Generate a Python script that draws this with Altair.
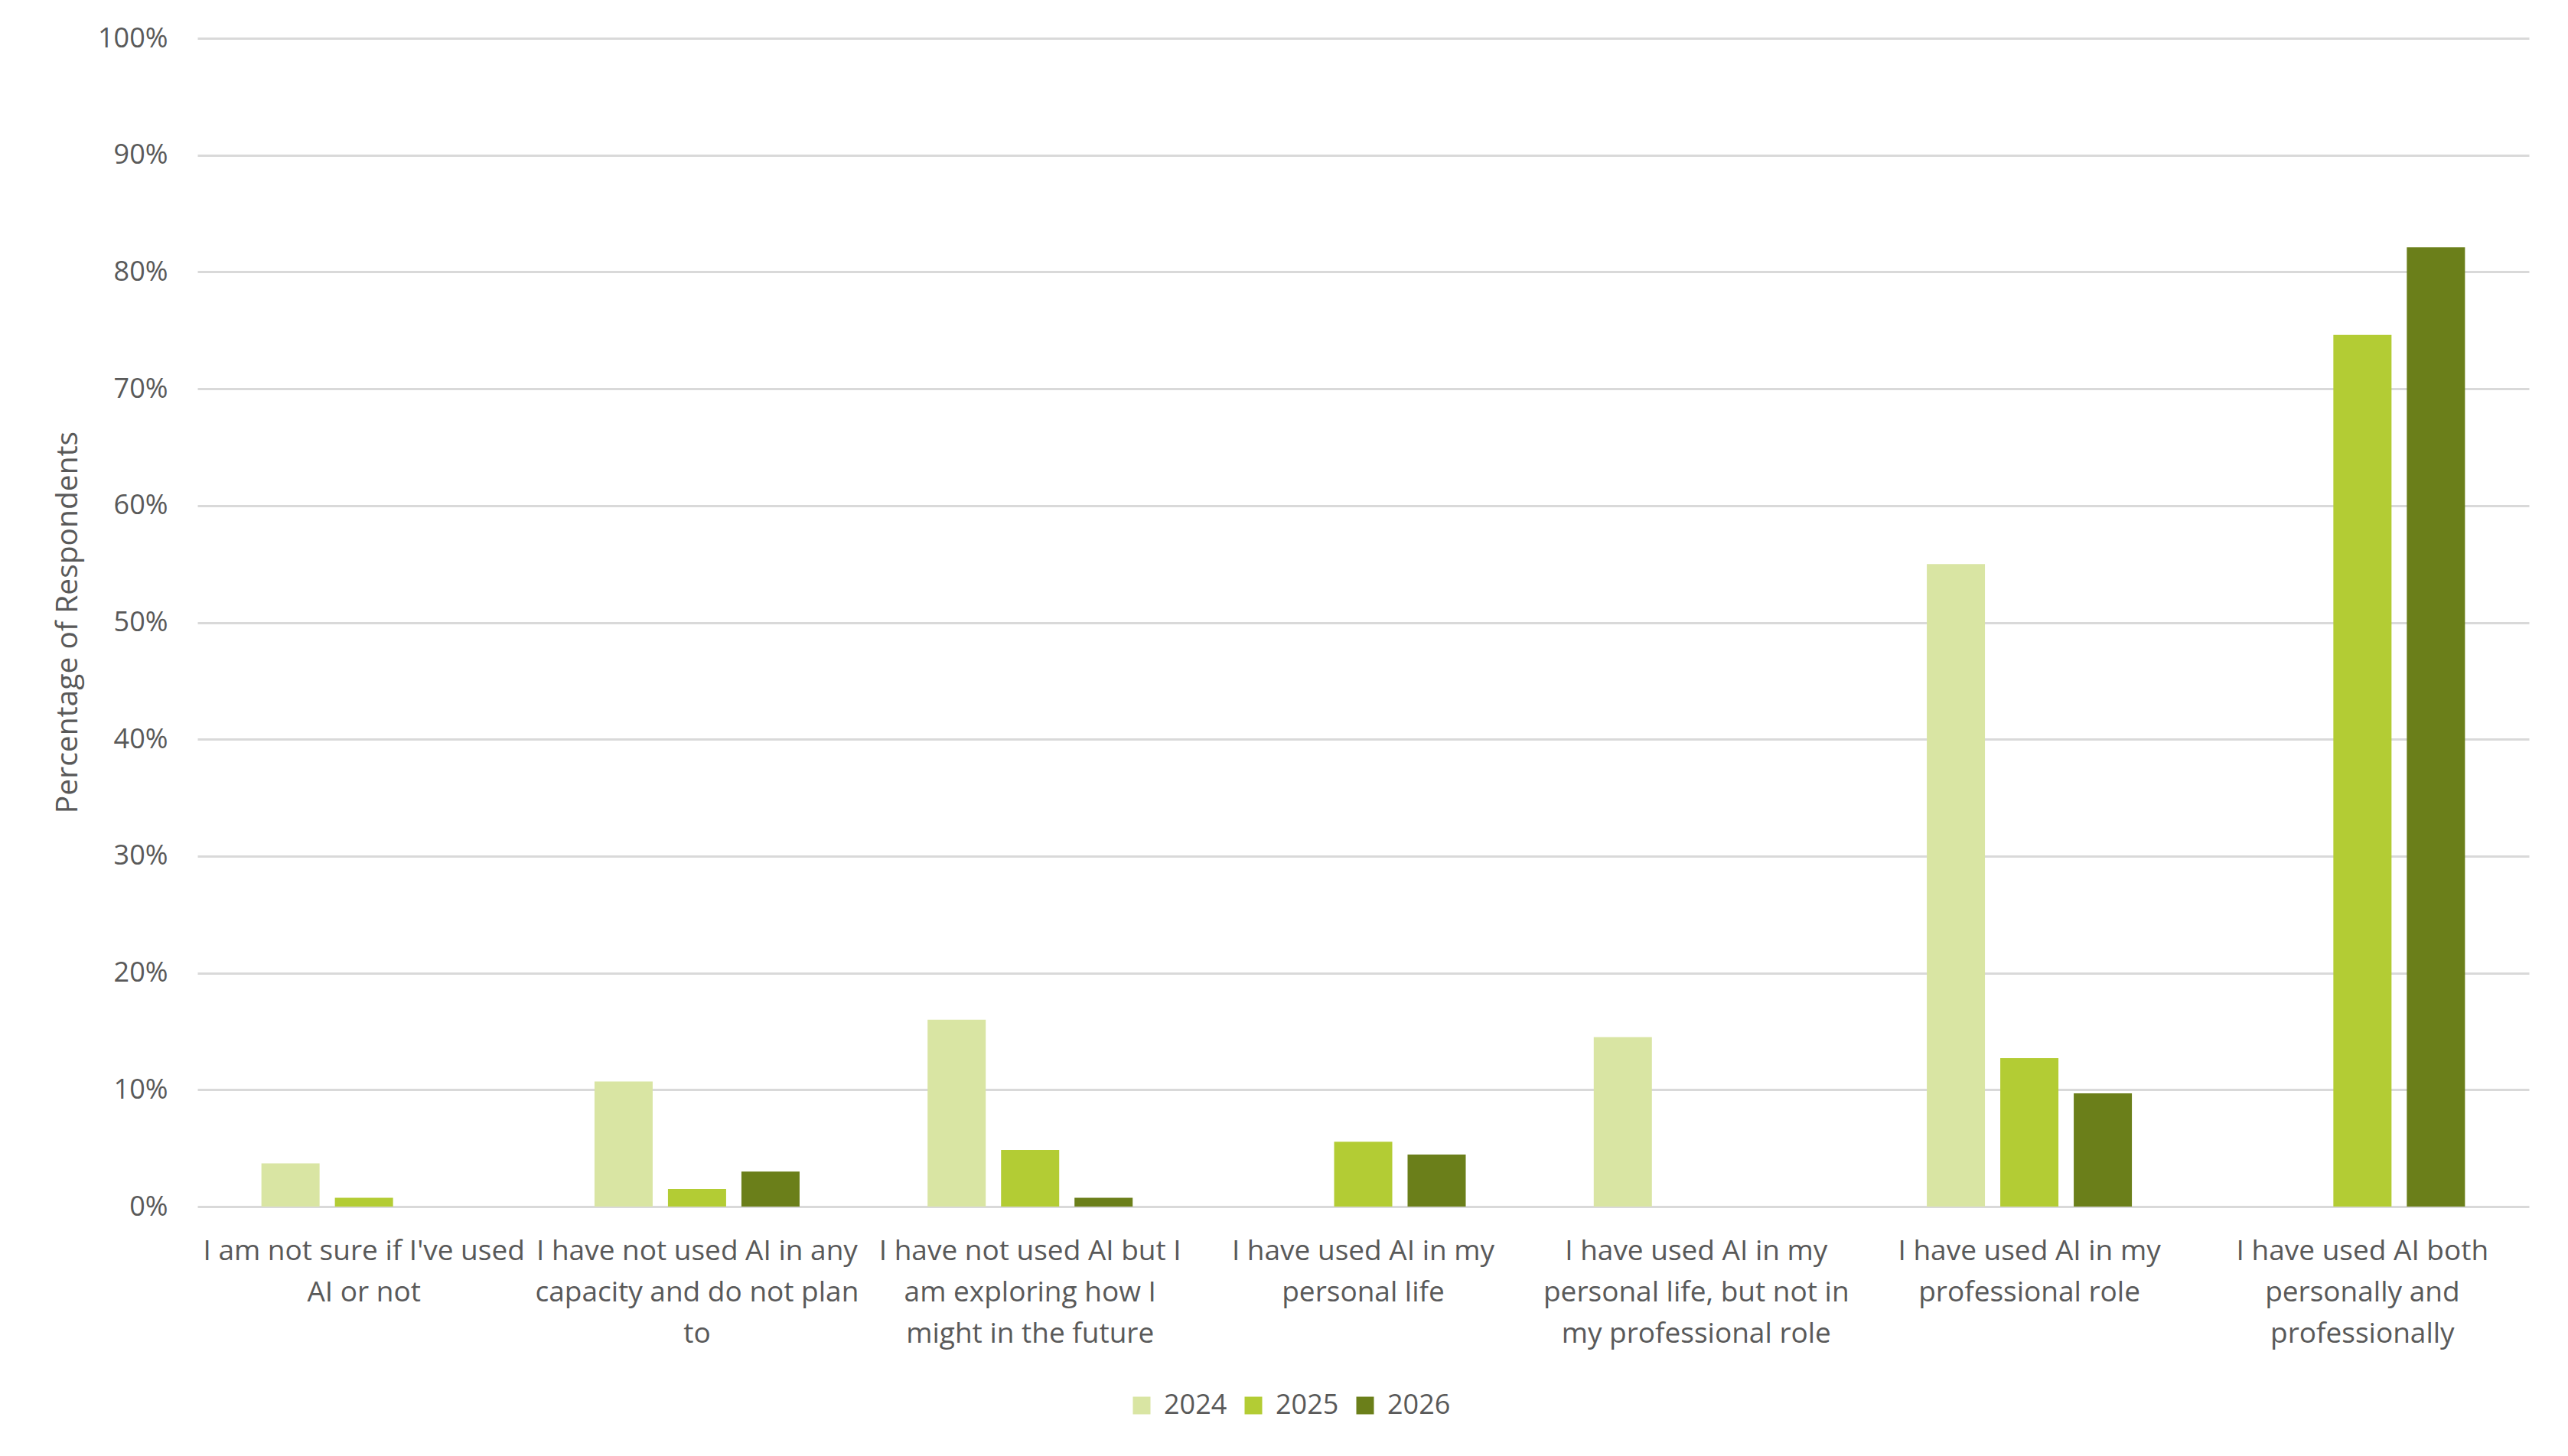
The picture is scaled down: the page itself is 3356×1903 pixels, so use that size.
import json
import altair as alt
import pandas as pd

categories = [
    "I am not sure if I've used AI or not",
    "I have not used AI in any capacity and do not plan to",
    "I have not used AI but I am exploring how I might in the future",
    "I have used AI in my personal life",
    "I have used AI in my personal life, but not in my professional role",
    "I have used AI in my professional role",
    "I have used AI both personally and professionally",
]
label_lines = [
    ["I am not sure if I've used", "AI or not"],
    ["I have not used AI in any", "capacity and do not plan", "to"],
    ["I have not used AI but I", "am exploring how I", "might in the future"],
    ["I have used AI in my", "personal life"],
    ["I have used AI in my", "personal life, but not in", "my professional role"],
    ["I have used AI in my", "professional role"],
    ["I have used AI both", "personally and", "professionally"],
]
years = ["2024", "2025", "2026"]
values_2024 = [3.7, 10.7, 16.0, 0.0, 14.5, 55.0, 0.0]
values_2025 = [0.75, 1.5, 4.85, 5.55, 0.0, 12.7, 74.6]
values_2026 = [0.0, 3.0, 0.75, 4.45, 0.0, 9.7, 82.1]
colors = ["#D9E5A3", "#B3CC34", "#6B7F1A"]
y_ticks = [0, 10, 20, 30, 40, 50, 60, 70, 80, 90, 100]

rows = []
for year, vals in zip(years, [values_2024, values_2025, values_2026]):
    for cat, v in zip(categories, vals):
        rows.append({"category": cat, "year": year, "value": v})
df = pd.DataFrame(rows)

# build label expression (multi-line labels)
expr = "datum.value"
for cat, lines in reversed(list(zip(categories, label_lines))):
    expr = f"datum.value == {json.dumps(cat)} ? {json.dumps(lines)} : ({expr})"

FONT = "Open Sans"
TXT = "#595959"
GRID = "#D9D9D9"

chart = (
    alt.Chart(df)
    .mark_bar()
    .encode(
        x=alt.X(
            "category:N",
            sort=categories,
            scale=alt.Scale(paddingInner=0.3843, paddingOuter=0.19215),
            axis=alt.Axis(
                title=None,
                labelAngle=0,
                labelExpr=expr,
                labelFont=FONT,
                labelFontSize=37,
                labelColor=TXT,
                labelLineHeight=54,
                labelPadding=40,
                labelLimit=0,
                ticks=False,
                tickSize=0,
                domain=False,
                grid=False,
            ),
        ),
        xOffset=alt.XOffset(
            "year:N", sort=years, scale=alt.Scale(paddingInner=0.2083, paddingOuter=0)
        ),
        y=alt.Y(
            "value:Q",
            scale=alt.Scale(domain=[0, 100], nice=False),
            axis=alt.Axis(
                title="Percentage of Respondents",
                titleFont=FONT,
                titleFontSize=39,
                titleFontWeight="normal",
                titleColor=TXT,
                titleAngle=-90,
                titleAlign="center",
                titleBaseline="alphabetic",
                titleX=-158,
                titleY=763,
                values=y_ticks,
                labelExpr="datum.value + '%'",
                labelFont=FONT,
                labelFontSize=36,
                labelColor=TXT,
                labelPadding=39,
                ticks=False,
                tickSize=0,
                domain=False,
                grid=True,
                gridColor=GRID,
                gridWidth=3,
            ),
        ),
        color=alt.Color(
            "year:N",
            sort=years,
            scale=alt.Scale(domain=years, range=colors),
            legend=alt.Legend(
                title=None,
                orient="none",
                direction="horizontal",
                legendX=1216,
                legendY=1769,
                symbolType="square",
                symbolSize=529,
                symbolStrokeWidth=0,
                labelFont=FONT,
                labelFontSize=36,
                labelColor=TXT,
                labelOffset=11,
                columnPadding=16,
            ),
        ),
    )
    .properties(
        width=3047,
        height=1527,
        autosize=alt.AutoSizeParams(type="none"),
        padding={"left": 250, "top": 42, "right": 43, "bottom": 318},
        background="white",
    )
    .configure_view(stroke=None)
)

chart.save("out.html", embed_options={"renderer": "svg", "actions": False})
